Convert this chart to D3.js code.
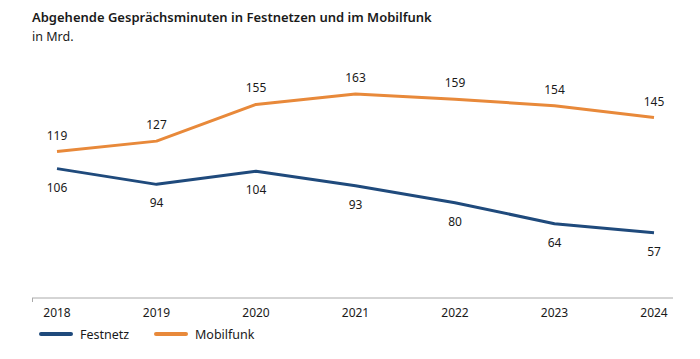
<!DOCTYPE html>
<html><head><meta charset="utf-8">
<script src="https://cdn.jsdelivr.net/npm/d3@7"></script>
<style>
body{margin:0;background:#fff;}
svg text{font-family:"Noto Sans","Open Sans",sans-serif;fill:#1a1a1a;}
</style></head>
<body><svg id="c" width="700" height="359"></svg>
<script>
const years = ["2018","2019","2020","2021","2022","2023","2024"];
const festnetz = [106, 94, 104, 93, 80, 64, 57];
const mobilfunk = [119, 127, 155, 163, 159, 154, 145];
const seriesNames = ["Festnetz", "Mobilfunk"];
const colors = ["#1f4a7c", "#e8893a"];

const svg = d3.select("#c");
const x = d3.scalePoint().domain(years).range([57, 654]);
const y = d3.scaleLinear().domain([0, 180]).range([307.5, 71.7]);

svg.append("text").attr("x", 32).attr("y", 22).attr("font-size", 13).attr("font-weight", 600).text("Abgehende Gesprächsminuten in Festnetzen und im Mobilfunk");
svg.append("text").attr("x", 32).attr("y", 41).attr("font-size", 12.5).text("in Mrd.");

// axis
const axisG = svg.append("g").attr("transform", "translate(0,298)");
axisG.append("line").attr("x1", 32).attr("x2", 673).attr("stroke", "#aaa").attr("stroke-width", 1);
axisG.append("line").attr("x1", 32.5).attr("x2", 32.5).attr("y1", 0).attr("y2", 4).attr("stroke", "#aaa");
axisG.selectAll("text.tick").data(years).join("text")
  .attr("x", d => x(d)).attr("y", 19).attr("text-anchor", "middle").attr("font-size", 12).text(d => d);

const line = d3.line().x((d, i) => x(years[i])).y(d => y(d));
const data = [festnetz, mobilfunk];
data.forEach((s, k) => {
  svg.append("path").datum(s).attr("d", line).attr("fill", "none")
    .attr("stroke", colors[k]).attr("stroke-width", 3).attr("stroke-linejoin", "round");
});
// labels
svg.selectAll("text.lf").data(festnetz).join("text")
  .attr("x", (d, i) => x(years[i])).attr("y", d => y(d) + 23)
  .attr("text-anchor", "middle").attr("font-size", 12).text(d => d);
svg.selectAll("text.lm").data(mobilfunk).join("text")
  .attr("x", (d, i) => x(years[i])).attr("y", d => y(d) - 12)
  .attr("text-anchor", "middle").attr("font-size", 12).text(d => d);

// legend
const lx = [41, 156];
seriesNames.forEach((n, k) => {
  svg.append("line").attr("x1", lx[k]).attr("x2", lx[k] + 30).attr("y1", 334).attr("y2", 334)
    .attr("stroke", colors[k]).attr("stroke-width", 4).attr("stroke-linecap", "round");
  svg.append("text").attr("x", lx[k] + 39).attr("y", 338.5).attr("font-size", 12.5).text(n);
});
</script></body></html>
